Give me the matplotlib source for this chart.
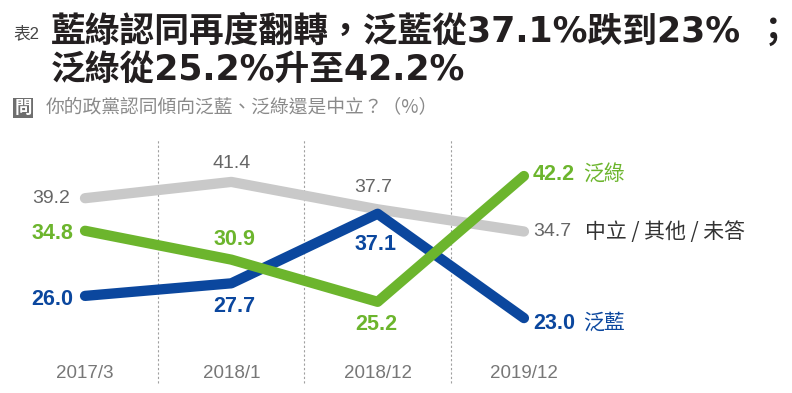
import matplotlib
matplotlib.use("Agg")
import matplotlib.pyplot as plt
from matplotlib.patches import Rectangle

# ---- data ----
periods = ["2017/3", "2018/1", "2018/12", "2019/12"]
neutral = [39.2, 41.4, 37.7, 34.7]
green_camp = [34.8, 30.9, 25.2, 42.2]
blue_camp = [26.0, 27.7, 37.1, 23.0]
series_names = ["中立 / 其他 / 未答", "泛綠", "泛藍"]

title_line1 = "藍綠認同再度翻轉，泛藍從37.1%跌到23%"
title_semicolon = "；"
title_line2 = "泛綠從25.2%升至42.2%"
table_no = "表2"
question = "你的政黨認同傾向泛藍、泛綠還是中立？（%）"

GRAY_LINE = "#c9c9c9"
GRAY_TXT = "#666666"
GREEN = "#6cb52d"
BLUE = "#0b479e"

CJK = "Noto Sans CJK TC"
LAT = "Liberation Sans"

W, H = 792, 393
fig = plt.figure(figsize=(W / 100, H / 100), dpi=100)
ax = fig.add_axes([0, 0, 1, 1])
ax.set_xlim(-0.581, 4.832)
ax.set_ylim(12.88, 65.98)
ax.axis("off")

def fy(px):
    return 1 - px / H

def fx(px):
    return px / W

x = list(range(len(periods)))

# dashed separators
ax.vlines([0.5, 1.5, 2.5], 14.2, 47.06, colors="#a0a0a0", linestyles=(0, (2.0, 2.0)), linewidth=0.8, zorder=1)

lw = 7.4
ax.plot(x, neutral, color=GRAY_LINE, lw=lw, solid_capstyle="round", solid_joinstyle="round", zorder=2)
ax.plot(x, blue_camp, color=BLUE, lw=lw, solid_capstyle="round", solid_joinstyle="round", zorder=3)
ax.plot(x, green_camp, color=GREEN, lw=lw, solid_capstyle="round", solid_joinstyle="round", zorder=4)

def lab(i, v, dx_px, dy_px, color, bold, ha, size):
    ax.annotate(f"{v:.1f}", (x[i], v), xytext=(dx_px * 0.72, -dy_px * 0.72),
                textcoords="offset points", ha=ha, va="center", color=color,
                fontsize=size, fontweight="bold" if bold else "normal",
                family=LAT, zorder=6)

NS, BS = 14, 15.5
# point labels
lab(0, neutral[0], -15, 0, GRAY_TXT, False, "right", NS)
lab(0, green_camp[0], -12, 3, GREEN, True, "right", BS)
lab(0, blue_camp[0], -12, 4, BLUE, True, "right", BS)
lab(1, neutral[1], 0, -18, GRAY_TXT, False, "center", NS)
lab(1, green_camp[1], 3, -20, GREEN, True, "center", BS)
lab(1, blue_camp[1], 3, 23, BLUE, True, "center", BS)
lab(2, neutral[2], -4, -22, GRAY_TXT, False, "center", NS)
lab(2, blue_camp[2], -2, 31, BLUE, True, "center", BS)
lab(2, green_camp[2], -1, 23, GREEN, True, "center", BS)
lab(3, green_camp[3], 9, -1, GREEN, True, "left", BS)
lab(3, neutral[3], 9, 0, GRAY_TXT, False, "left", NS)
lab(3, blue_camp[3], 9, 5, BLUE, True, "left", BS)

# series names at the end
def name(i, v, text, dx_px, dy_px, color):
    ax.annotate(text, (x[i], v), xytext=(dx_px * 0.72, -dy_px * 0.72),
                textcoords="offset points", ha="left", va="center", color=color,
                fontsize=15, family=[CJK, "DejaVu Sans"], zorder=6)

name(3, green_camp[3], series_names[1], 59, -1, GREEN)
name(3, neutral[3], series_names[0], 61, 0, "#333333")
name(3, blue_camp[3], series_names[2], 59, 5, BLUE)

# x tick labels
for i, p in enumerate(periods):
    ax.text(x[i], fy(373), p, transform=ax.get_xaxis_transform(), ha="center", va="center",
            fontsize=13.5, color="#777777", family=LAT)

# titles
fig.text(fx(13), fy(38), table_no, ha="left", va="baseline", fontsize=12, color="#444444",
         family=[LAT, CJK])
fig.text(fx(51), fy(42), title_line1, ha="left", va="baseline", fontsize=25, fontweight="bold",
         color="#231f20", family=["DejaVu Sans", CJK])
fig.text(fx(773), fy(42), title_semicolon, ha="center", va="baseline", fontsize=25, fontweight="bold",
         color="#231f20", family=[CJK])
fig.text(fx(51), fy(80), title_line2, ha="left", va="baseline", fontsize=25, fontweight="bold",
         color="#231f20", family=["DejaVu Sans", CJK])

# question line
fig.patches.append(Rectangle((fx(13), fy(118)), fx(20), 20 / H, transform=fig.transFigure,
                             facecolor="#6e6e6e", edgecolor="none"))
fig.text(fx(23), fy(108), "問", ha="center", va="center", fontsize=12.5, fontweight="bold",
         color="white", family=[CJK])
fig.text(fx(46), fy(108), question, ha="left", va="center", fontsize=13.5, color="#8a8a8a",
         family=[CJK, "DejaVu Sans"])

fig.savefig("out.png", dpi=100)
